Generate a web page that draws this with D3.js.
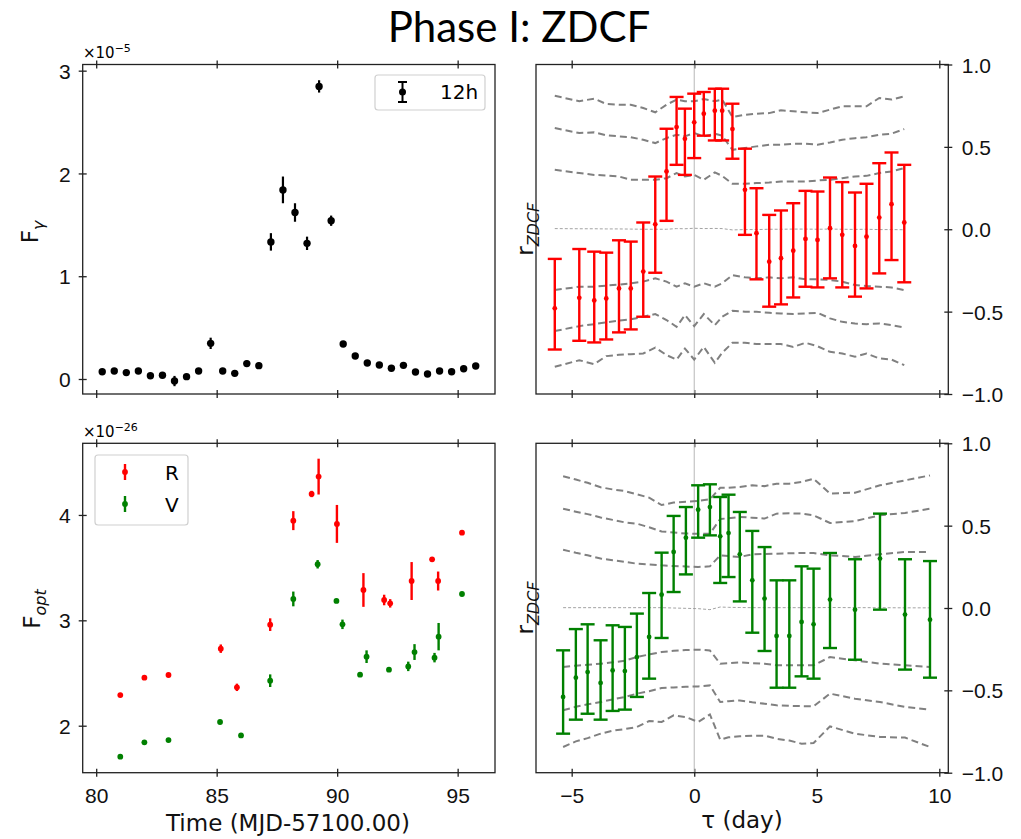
<!DOCTYPE html>
<html>
<head>
<meta charset="utf-8">
<script src="https://cdn.jsdelivr.net/npm/d3@7"></script>
<style>
  body { margin: 0; background: #fff; }
  svg { display: block; font-family: 'DejaVu Sans', sans-serif; }
  .tick text { font-size: 21px; fill: #111; }
  .tick line { stroke: #222; stroke-width: 1.3; }
  .frame { fill: none; stroke: #222; stroke-width: 1.3; }
  .band { fill: none; stroke: #808080; stroke-width: 2; stroke-dasharray: 7 4; }
  .band--mid { stroke: #999; stroke-width: 0.9; stroke-dasharray: 3 2; }
  .lbl { font-size: 23px; fill: #111; }
</style>
</head>
<body>
<svg class="chart"></svg>
<script>

// gamma-ray light curve, 12h bins (x1e-5)
const fgTime = [80.25, 80.75, 81.25, 81.75, 82.25, 82.75, 83.25, 83.75, 84.25, 84.75, 85.25, 85.75, 86.25, 86.75, 87.25, 87.75,
    88.25, 88.75, 89.25, 89.75, 90.25, 90.75, 91.25, 91.75, 92.25, 92.75, 93.25, 93.75, 94.25, 94.75, 95.25, 95.75]
const fgFlux = [0.071, 0.078, 0.062, 0.078, 0.032, 0.036, -0.02, 0.023, 0.078, 0.347, 0.078, 0.055, 0.15, 0.13, 1.334, 1.84,
    1.62, 1.32, 2.847, 1.54, 0.34, 0.224, 0.156, 0.136, 0.104, 0.133, 0.068, 0.049, 0.078, 0.071, 0.10, 0.127]
const fgErr = [0.02, 0.02, 0.02, 0.02, 0.02, 0.02, 0.05, 0.02, 0.02, 0.055, 0.02, 0.02, 0.03, 0.03, 0.085, 0.13,
    0.09, 0.065, 0.06, 0.05, 0.02, 0.02, 0.02, 0.02, 0.02, 0.02, 0.02, 0.02, 0.02, 0.02, 0.02, 0.02]

// optical light curves (x1e-26)
const rTime = [81.0, 82.0, 83.0, 85.17, 85.84, 87.22, 88.18, 88.94, 89.23, 89.99, 91.09, 91.95, 92.20, 93.09, 93.94, 94.19, 95.18]
const rFlux = [2.291, 2.456, 2.481, 2.731, 2.364, 2.959, 3.946, 4.199, 4.364, 3.915, 3.288, 3.193, 3.161, 3.373, 3.579, 3.373, 3.832]
const rErr = [0.02, 0.02, 0.02, 0.04, 0.035, 0.06, 0.09, 0.03, 0.17, 0.18, 0.16, 0.05, 0.04, 0.18, 0.02, 0.09, 0.02]

const vTime = [81.0, 82.0, 83.0, 85.14, 86.01, 87.22, 88.18, 89.19, 89.97, 90.22, 90.95, 91.22, 92.15, 92.95, 93.21, 94.04, 94.21, 95.18]
const vFlux = [1.706, 1.842, 1.864, 2.035, 1.908, 2.427, 3.203, 3.532, 3.184, 2.962, 2.484, 2.655, 2.532, 2.563, 2.699, 2.646, 2.845, 3.25]
const vErr = [0.02, 0.02, 0.02, 0.02, 0.02, 0.06, 0.07, 0.04, 0.02, 0.045, 0.02, 0.06, 0.02, 0.045, 0.075, 0.045, 0.13, 0.02]

// ZDCF gamma vs R
const rTau = [-5.69, -4.69, -4.08, -3.59, -3.07, -2.59, -2.08, -1.59, -1.13, -0.72, -0.38, 0.0, 0.39, 0.84, 1.14, 1.56,
    2.07, 2.54, 3.06, 3.54, 4.04, 4.54, 5.03, 5.54, 6.04, 6.56, 7.03, 7.55, 8.05, 8.57]
const rZ = [-0.480, -0.416, -0.432, -0.42, -0.359, -0.359, -0.257, 0.030, 0.351, 0.620, 0.549, 0.649, 0.701, 0.72, 0.72, 0.608,
    0.239, -0.024, -0.197, -0.176, -0.130, -0.059, -0.065, 0.006, -0.034, -0.101, -0.045, 0.071, 0.152, 0.041]
const rZHi = [-0.18, -0.12, -0.136, -0.142, -0.067, -0.075, 0.041, 0.32, 0.61, 0.803, 0.732, 0.823, 0.833, 0.853, 0.853, 0.762,
    0.489, 0.249, 0.087, 0.114, 0.158, 0.233, 0.229, 0.314, 0.286, 0.223, 0.276, 0.401, 0.466, 0.391]
const rZLo = [-0.73, -0.677, -0.687, -0.669, -0.626, -0.608, -0.531, -0.264, 0.051, 0.391, 0.330, 0.432, 0.568, 0.539, 0.539, 0.428,
    -0.034, -0.304, -0.470, -0.456, -0.414, -0.349, -0.353, -0.298, -0.353, -0.409, -0.359, -0.268, -0.187, -0.322]

// simulated significance levels for gamma vs R
const rSig3Up = [0.81, 0.777, 0.793, 0.76, 0.756, 0.756, 0.736, 0.71, 0.756, 0.787, 0.777, 0.777, 0.79, 0.777, 0.787, 0.681,
    0.695, 0.701, 0.705, 0.722, 0.716, 0.71, 0.705, 0.726, 0.746, 0.746, 0.746, 0.797, 0.787, 0.807]
const rSig2Up = [0.614, 0.584, 0.588, 0.57, 0.564, 0.559, 0.543, 0.523, 0.553, 0.574, 0.564, 0.584, 0.564, 0.58, 0.568, 0.482,
    0.493, 0.503, 0.513, 0.513, 0.519, 0.519, 0.513, 0.527, 0.543, 0.553, 0.559, 0.574, 0.58, 0.608]
const rSig1Up = [0.361, 0.341, 0.33, 0.326, 0.32, 0.30, 0.30, 0.30, 0.31, 0.341, 0.32, 0.33, 0.30, 0.345, 0.324, 0.276,
    0.276, 0.28, 0.284, 0.29, 0.29, 0.29, 0.296, 0.30, 0.31, 0.32, 0.324, 0.341, 0.351, 0.371]
const rMedian = [0.004, 0.003, 0.003, 0.002, 0.002, 0.001, 0.0, 0.0, 0.0, 0.004, 0.003, 0.006, 0.004, 0.005, 0.004, -0.004,
    -0.002, -0.002, 0.0, 0.0, 0.001, 0.001, 0.0, 0.001, 0.0, -0.001, 0.0, -0.002, -0.002, -0.003]
const rSig1Dn = [-0.369, -0.349, -0.349, -0.342, -0.336, -0.328, -0.318, -0.298, -0.318, -0.349, -0.328, -0.349, -0.328, -0.349, -0.328, -0.278,
    -0.292, -0.298, -0.292, -0.298, -0.292, -0.304, -0.304, -0.308, -0.318, -0.339, -0.345, -0.349, -0.353, -0.369]
const rSig2Dn = [-0.618, -0.588, -0.576, -0.565, -0.555, -0.547, -0.531, -0.515, -0.551, -0.592, -0.521, -0.588, -0.515, -0.582, -0.531, -0.495,
    -0.501, -0.501, -0.507, -0.511, -0.515, -0.511, -0.507, -0.541, -0.562, -0.572, -0.576, -0.572, -0.582, -0.596]
const rSig3Dn = [-0.835, -0.795, -0.819, -0.77, -0.762, -0.758, -0.754, -0.718, -0.764, -0.791, -0.724, -0.791, -0.714, -0.811, -0.75, -0.689,
    -0.689, -0.697, -0.697, -0.697, -0.714, -0.689, -0.71, -0.744, -0.754, -0.774, -0.754, -0.784, -0.791, -0.825]

// ZDCF gamma vs V
const vTau = [-5.35, -4.83, -4.35, -3.82, -3.33, -2.83, -2.34, -1.84, -1.33, -0.84, -0.34, 0.16, 0.64, 1.06, 1.40, 1.86,
    2.37, 2.87, 3.36, 3.88, 4.38, 4.87, 5.54, 6.56, 7.58, 8.60, 9.62]
const vZ = [-0.540, -0.423, -0.389, -0.455, -0.379, -0.383, -0.298, -0.176, 0.081, 0.340, 0.427, 0.597, 0.613, 0.435, 0.455, 0.326,
    0.168, 0.057, -0.170, -0.170, -0.085, -0.099, 0.051, -0.010, 0.300, -0.040, -0.071]
const vZHi = [-0.257, -0.128, -0.099, -0.196, -0.105, -0.115, -0.034, 0.091, 0.336, 0.559, 0.613, 0.745, 0.751, 0.674, 0.688, 0.583,
    0.468, 0.370, 0.168, 0.168, 0.253, 0.239, 0.334, 0.296, 0.573, 0.296, 0.285]
const vZLo = [-0.763, -0.678, -0.642, -0.678, -0.625, -0.617, -0.540, -0.429, -0.182, 0.097, 0.204, 0.427, 0.441, 0.152, 0.188, 0.040,
    -0.150, -0.261, -0.484, -0.484, -0.415, -0.429, -0.243, -0.314, -0.010, -0.374, -0.423]

const vSig3Up = [0.80, 0.78, 0.76, 0.733, 0.72, 0.71, 0.69, 0.67, 0.625, 0.64, 0.645, 0.65, 0.66, 0.73, 0.73, 0.735,
    0.745, 0.74, 0.755, 0.755, 0.765, 0.785, 0.695, 0.70, 0.745, 0.775, 0.805]
const vSig2Up = [0.603, 0.585, 0.57, 0.55, 0.535, 0.52, 0.512, 0.49, 0.465, 0.458, 0.452, 0.451, 0.451, 0.54, 0.545, 0.553,
    0.548, 0.543, 0.573, 0.575, 0.573, 0.563, 0.516, 0.528, 0.563, 0.577, 0.603]
const vSig1Up = [0.354, 0.335, 0.32, 0.30, 0.29, 0.28, 0.269, 0.265, 0.259, 0.255, 0.252, 0.249, 0.253, 0.32, 0.315, 0.31,
    0.326, 0.328, 0.33, 0.332, 0.334, 0.334, 0.32, 0.31, 0.326, 0.34, 0.34]
const vMedian = [0.002, 0.002, 0.002, 0.002, 0.002, 0.002, 0.002, 0.002, 0.002, 0.0, -0.002, -0.004, -0.01, 0.006, 0.004, 0.003,
    0.002, 0.002, 0.002, 0.002, 0.002, 0.002, 0.003, 0.002, 0.002, 0.001, 0.001]
const vSig1Dn = [-0.358, -0.35, -0.345, -0.338, -0.33, -0.32, -0.298, -0.282, -0.267, -0.26, -0.255, -0.253, -0.258, -0.338, -0.335, -0.33,
    -0.335, -0.338, -0.348, -0.348, -0.348, -0.348, -0.298, -0.318, -0.338, -0.348, -0.358]
const vSig2Dn = [-0.621, -0.60, -0.585, -0.571, -0.555, -0.54, -0.52, -0.505, -0.486, -0.482, -0.478, -0.476, -0.47, -0.571, -0.566, -0.561,
    -0.572, -0.581, -0.591, -0.594, -0.596, -0.597, -0.52, -0.551, -0.571, -0.601, -0.617]
const vSig3Dn = [-0.844, -0.81, -0.79, -0.763, -0.745, -0.735, -0.723, -0.686, -0.692, -0.652, -0.662, -0.692, -0.646, -0.80, -0.785, -0.779,
    -0.775, -0.775, -0.794, -0.805, -0.824, -0.82, -0.719, -0.763, -0.783, -0.787, -0.844]

const timeTicks = [80, 85, 90, 95]
const fgTicks = [0, 1, 2, 3]
const optTicks = [2, 3, 4]
const tauTicks = [-5, 0, 5, 10]
const rTicks = [-1, -0.5, 0, 0.5, 1]

const width = 1021
const height = 839

const svg = d3.select('.chart')
    .attr('width', width)
    .attr('height', height)

const colL = [82.7, 495]
const colR = [536, 948.3]
const rowT = [64.5, 394]
const rowB = [443.3, 772.7]

const xTime = d3.scaleLinear().domain([79.44, 96.55]).range(colL)
const xTau = d3.scaleLinear().domain([-6.456, 10.367]).range(colR)
const yFg = d3.scaleLinear().domain([-0.146, 3.06]).range([rowT[1], rowT[0]])
const yOpt = d3.scaleLinear().domain([1.554, 4.68]).range([rowB[1], rowB[0]])
const yRTop = d3.scaleLinear().domain([-1, 1]).range([rowT[1], rowT[0]])
const yRBot = d3.scaleLinear().domain([-1, 1]).range([rowB[1], rowB[0]])

// axes with ticks crossing the frame (in and out)
const addAxis = (orient, scale, ticks, pos, fmt, showLabels) => {
    const axis = orient(scale).tickValues(ticks).tickSize(4)
        .tickFormat(showLabels ? fmt : '')
    const g = svg.append('g').call(axis)
    g.select('.domain').remove()
    g.selectAll('.tick text').attr('font-family', null).attr('font-size', null)
    if (orient === d3.axisBottom || orient === d3.axisTop) {
        g.attr('transform', `translate(0,${pos})`)
        g.selectAll('.tick line').attr('y1', -4).attr('y2', 4)
        g.selectAll('.tick text').attr('y', 30).attr('dy', 0)
    } else {
        g.attr('transform', `translate(${pos},0)`)
        g.selectAll('.tick line').attr('x1', -4).attr('x2', 4)
        g.selectAll('.tick text').attr('dy', '0.36em')
        if (orient === d3.axisLeft) g.selectAll('.tick text').attr('x', -12)
        else g.selectAll('.tick text').attr('x', 13.5)
    }
    return g
}

const frame = (cx, cy) => svg.append('rect').attr('class', 'frame')
    .attr('x', cx[0]).attr('y', cy[0])
    .attr('width', cx[1] - cx[0]).attr('height', cy[1] - cy[0])

// ---- top left: gamma light curve
addAxis(d3.axisBottom, xTime, timeTicks, rowT[1], d3.format('d'), false)
addAxis(d3.axisTop, xTime, timeTicks, rowT[0], d3.format('d'), false)
addAxis(d3.axisLeft, yFg, fgTicks, colL[0], d3.format('d'), true)

const fgData = fgTime.map((t, i) => ({ t, f: fgFlux[i], e: fgErr[i] }))
svg.append('g').selectAll('line').data(fgData).enter().append('line')
    .attr('x1', d => xTime(d.t)).attr('x2', d => xTime(d.t))
    .attr('y1', d => yFg(d.f - d.e)).attr('y2', d => yFg(d.f + d.e))
    .attr('stroke', '#000').attr('stroke-width', 2.2)
svg.append('g').selectAll('circle').data(fgData).enter().append('circle')
    .attr('cx', d => xTime(d.t)).attr('cy', d => yFg(d.f)).attr('r', 3.7)
    .attr('fill', '#000')
frame(colL, rowT)

// legend 12h
const lg1 = svg.append('g')
lg1.append('rect').attr('x', 375).attr('y', 75).attr('width', 110).attr('height', 35)
    .attr('rx', 3).attr('fill', '#fff').attr('stroke', '#d0d0d0').attr('stroke-width', 1.2)
lg1.append('line').attr('x1', 402.5).attr('x2', 402.5).attr('y1', 82).attr('y2', 102)
    .attr('stroke', '#000').attr('stroke-width', 2)
lg1.selectAll('.cap').data([82, 102]).enter().append('line')
    .attr('x1', 398).attr('x2', 407).attr('y1', d => d).attr('y2', d => d)
    .attr('stroke', '#000').attr('stroke-width', 2)
lg1.append('circle').attr('cx', 402.5).attr('cy', 92).attr('r', 3.5).attr('fill', '#000')
lg1.append('text').attr('x', 440).attr('y', 99).attr('font-size', 20).text('12h')

// offset text
const off1 = svg.append('text').attr('x', 83).attr('y', 58).attr('font-size', 15)
off1.append('tspan').text('×10')
off1.append('tspan').attr('dy', -6).attr('font-size', 11).text('−5')

// F_gamma label
const yl1 = svg.append('text').attr('class', 'lbl').attr('text-anchor', 'middle')
    .attr('transform', 'translate(38,232) rotate(-90)')
yl1.append('tspan').text('F')
yl1.append('tspan').attr('dy', 6).attr('font-size', 16).attr('font-style', 'italic').text('γ')

// ---- bottom left: optical light curves
addAxis(d3.axisBottom, xTime, timeTicks, rowB[1], d3.format('d'), true)
addAxis(d3.axisTop, xTime, timeTicks, rowB[0], d3.format('d'), false)
addAxis(d3.axisLeft, yOpt, optTicks, colL[0], d3.format('d'), true)

const drawOpt = (times, flux, err, colour) => {
    const data = times.map((t, i) => ({ t, f: flux[i], e: err[i] }))
    const g = svg.append('g')
    g.selectAll('line').data(data).enter().append('line')
        .attr('x1', d => xTime(d.t)).attr('x2', d => xTime(d.t))
        .attr('y1', d => yOpt(d.f - d.e)).attr('y2', d => yOpt(d.f + d.e))
        .attr('stroke', colour).attr('stroke-width', 2.4)
    g.selectAll('circle').data(data).enter().append('circle')
        .attr('cx', d => xTime(d.t)).attr('cy', d => yOpt(d.f)).attr('r', 2.9)
        .attr('fill', colour)
}
drawOpt(rTime, rFlux, rErr, '#ff0000')
drawOpt(vTime, vFlux, vErr, '#008000')
frame(colL, rowB)

// legend R / V
const lg2 = svg.append('g')
lg2.append('rect').attr('x', 95).attr('y', 455).attr('width', 93).attr('height', 70)
    .attr('rx', 3).attr('fill', '#fff').attr('stroke', '#d0d0d0').attr('stroke-width', 1.2)
const lg2Items = [{ name: 'R', colour: '#ff0000', y: 472 }, { name: 'V', colour: '#008000', y: 504 }]
lg2.selectAll('line').data(lg2Items).enter().append('line')
    .attr('x1', 125).attr('x2', 125).attr('y1', d => d.y - 8).attr('y2', d => d.y + 8)
    .attr('stroke', d => d.colour).attr('stroke-width', 2.4)
lg2.selectAll('circle').data(lg2Items).enter().append('circle')
    .attr('cx', 125).attr('cy', d => d.y).attr('r', 2.9).attr('fill', d => d.colour)
lg2.selectAll('text').data(lg2Items).enter().append('text')
    .attr('x', 165).attr('y', d => d.y + 8).attr('font-size', 20).text(d => d.name)

const off2 = svg.append('text').attr('x', 83).attr('y', 437).attr('font-size', 15)
off2.append('tspan').text('×10')
off2.append('tspan').attr('dy', -6).attr('font-size', 11).text('−26')

const yl2 = svg.append('text').attr('class', 'lbl').attr('text-anchor', 'middle')
    .attr('transform', 'translate(40,609) rotate(-90)')
yl2.append('tspan').text('F')
yl2.append('tspan').attr('dy', 6).attr('font-size', 16).attr('font-style', 'italic').text('opt')

svg.append('text').attr('class', 'lbl').attr('text-anchor', 'middle')
    .attr('x', 288).attr('y', 831).text('Time (MJD-57100.00)')

// ---- right panels: ZDCF
const drawZdcf = (yScale, rows, tau, z, zHi, zLo, bands, colour, showX) => {
    addAxis(d3.axisBottom, xTau, tauTicks, rows[1], d3.format('d'), showX)
    addAxis(d3.axisTop, xTau, tauTicks, rows[0], d3.format('d'), false)
    addAxis(d3.axisRight, yScale, rTicks, colR[1], d3.format('.1f'), true)

    svg.append('line')
        .attr('x1', xTau(0)).attr('x2', xTau(0))
        .attr('y1', rows[0]).attr('y2', rows[1])
        .attr('stroke', '#b8b8b8').attr('stroke-width', 1)

    const line = d3.line().x((d, i) => xTau(tau[i])).y(d => yScale(d))
    svg.append('g').selectAll('path').data(bands).enter().append('path')
        .attr('class', (d, i) => i === 3 ? 'band band--mid' : 'band')
        .attr('d', line)

    const data = tau.map((t, i) => ({ t, z: z[i], hi: zHi[i], lo: zLo[i] }))
    const g = svg.append('g').attr('stroke', colour).attr('stroke-width', 2.4)
    g.selectAll('.bar').data(data).enter().append('line')
        .attr('x1', d => xTau(d.t)).attr('x2', d => xTau(d.t))
        .attr('y1', d => yScale(d.lo)).attr('y2', d => yScale(d.hi))
    g.selectAll('.capHi').data(data).enter().append('line')
        .attr('x1', d => xTau(d.t) - 7).attr('x2', d => xTau(d.t) + 7)
        .attr('y1', d => yScale(d.hi)).attr('y2', d => yScale(d.hi))
    g.selectAll('.capLo').data(data).enter().append('line')
        .attr('x1', d => xTau(d.t) - 7).attr('x2', d => xTau(d.t) + 7)
        .attr('y1', d => yScale(d.lo)).attr('y2', d => yScale(d.lo))
    svg.append('g').selectAll('circle').data(data).enter().append('circle')
        .attr('cx', d => xTau(d.t)).attr('cy', d => yScale(d.z)).attr('r', 2.4)
        .attr('fill', colour)

    frame(colR, rows)

    const yl = svg.append('text').attr('class', 'lbl').attr('text-anchor', 'middle')
        .attr('transform', `translate(533,${(rows[0] + rows[1]) / 2}) rotate(-90)`)
    yl.append('tspan').text('r')
    yl.append('tspan').attr('dy', 6).attr('font-size', 16).attr('font-style', 'italic').text('ZDCF')
}

drawZdcf(yRTop, rowT, rTau, rZ, rZHi, rZLo,
    [rSig3Up, rSig2Up, rSig1Up, rMedian, rSig1Dn, rSig2Dn, rSig3Dn], '#ff0000', false)
drawZdcf(yRBot, rowB, vTau, vZ, vZHi, vZLo,
    [vSig3Up, vSig2Up, vSig1Up, vMedian, vSig1Dn, vSig2Dn, vSig3Dn], '#008000', true)

svg.append('text').attr('class', 'lbl').attr('text-anchor', 'middle')
    .attr('x', 742).attr('y', 828).text('τ (day)')

// title
svg.append('text').attr('x', 519).attr('y', 41.5).attr('text-anchor', 'middle')
    .attr('font-family', 'Lato, sans-serif').attr('font-size', 42).attr('fill', '#000')
    .text('Phase I: ZDCF')

</script>
</body>
</html>
